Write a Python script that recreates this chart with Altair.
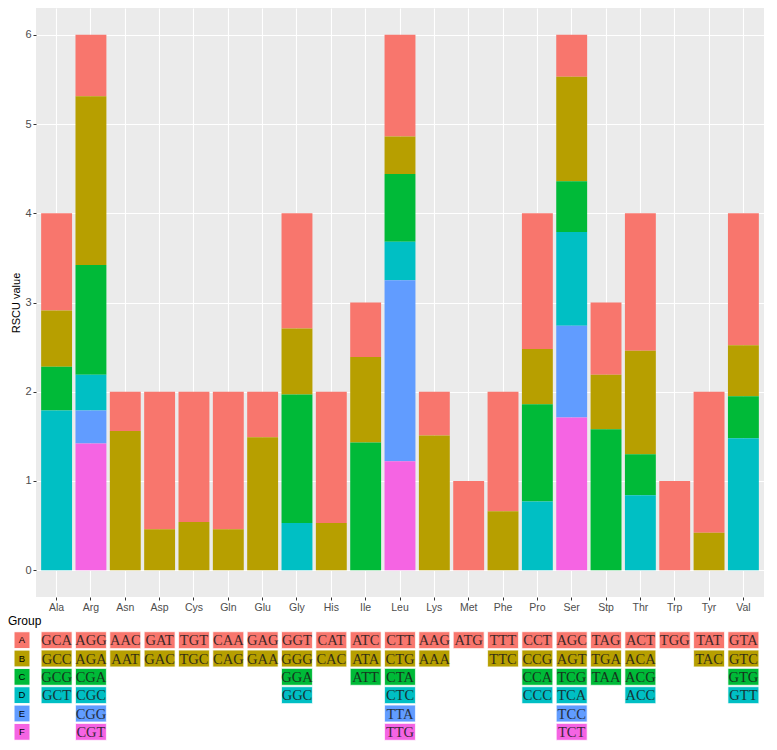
import altair as alt
import pandas as pd

# ---------------- data ----------------
amino_acids = ["Ala", "Arg", "Asn", "Asp", "Cys", "Gln", "Glu", "Gly", "His", "Ile", "Leu",
               "Lys", "Met", "Phe", "Pro", "Ser", "Stp", "Thr", "Trp", "Tyr", "Val"]

codons = ["GCA", "GCC", "GCG", "GCT",
          "AGG", "AGA", "CGA", "CGC", "CGG", "CGT",
          "AAC", "AAT",
          "GAT", "GAC",
          "TGT", "TGC",
          "CAA", "CAG",
          "GAG", "GAA",
          "GGT", "GGG", "GGA", "GGC",
          "CAT", "CAC",
          "ATC", "ATA", "ATT",
          "CTT", "CTG", "CTA", "CTC", "TTA", "TTG",
          "AAG", "AAA",
          "ATG",
          "TTT", "TTC",
          "CCT", "CCG", "CCA", "CCC",
          "AGC", "AGT", "TCG", "TCA", "TCC", "TCT",
          "TAG", "TGA", "TAA",
          "ACT", "ACA", "ACG", "ACC",
          "TGG",
          "TAT", "TAC",
          "GTA", "GTC", "GTG", "GTT"]

codon_aa = (["Ala"] * 4 + ["Arg"] * 6 + ["Asn"] * 2 + ["Asp"] * 2 + ["Cys"] * 2 + ["Gln"] * 2
            + ["Glu"] * 2 + ["Gly"] * 4 + ["His"] * 2 + ["Ile"] * 3 + ["Leu"] * 6 + ["Lys"] * 2
            + ["Met"] * 1 + ["Phe"] * 2 + ["Pro"] * 4 + ["Ser"] * 6 + ["Stp"] * 3 + ["Thr"] * 4
            + ["Trp"] * 1 + ["Tyr"] * 2 + ["Val"] * 4)

codon_group = (list("ABCD") + list("ABCDEF") + list("AB") * 5 + list("ABCD") + list("AB")
               + list("ABC") + list("ABCDEF") + list("AB") + list("A") + list("AB")
               + list("ABCD") + list("ABCDEF") + list("ABC") + list("ABCD") + list("A")
               + list("AB") + list("ABCD"))

rscu = [1.09, 0.63, 0.49, 1.79,
        0.69, 1.89, 1.23, 0.40, 0.37, 1.42,
        0.44, 1.56,
        1.54, 0.46,
        1.46, 0.54,
        1.54, 0.46,
        0.51, 1.49,
        1.29, 0.74, 1.44, 0.53,
        1.47, 0.53,
        0.61, 0.96, 1.43,
        1.14, 0.42, 0.76, 0.43, 2.03, 1.22,
        0.49, 1.51,
        1.00,
        1.34, 0.66,
        1.52, 0.62, 1.09, 0.77,
        0.47, 1.17, 0.57, 1.05, 1.03, 1.71,
        0.81, 0.61, 1.58,
        1.54, 1.16, 0.46, 0.84,
        1.00,
        1.58, 0.42,
        1.48, 0.57, 0.47, 1.48]

group_levels = ["A", "B", "C", "D", "E", "F"]
group_colors = ["#F8766D", "#B79F00", "#00BA38", "#00BFC4", "#619CFF", "#F564E3"]
y_ticks = [0, 0.5, 1, 1.5, 2, 2.5, 3, 3.5, 4, 4.5, 5, 5.5, 6]

df = pd.DataFrame({"AA": codon_aa, "Codon": codons, "Group": codon_group, "RSCU": rscu})
df["ord"] = df["Group"].map({g: i for i, g in enumerate(group_levels)})
keys = pd.DataFrame({"Group": group_levels})

# ---------------- layout ----------------
W = 728
H = 589
TABLE_H = 110
SANS = "Liberation Sans"

x_scale = alt.Scale(domain=amino_acids, paddingInner=0.1, paddingOuter=0.15)
color_scale = alt.Scale(domain=group_levels, range=group_colors)

major = "datum.value % 1 === 0"

bars = alt.Chart(df).mark_bar().encode(
    x=alt.X("AA:N", scale=x_scale, sort=amino_acids,
            axis=alt.Axis(title=None, labelAngle=0, bandPosition=0.5, grid=True,
                          gridColor="white", gridWidth=1.1, domain=False,
                          tickColor="#333333", tickSize=3, tickWidth=1,
                          labelColor="#4D4D4D", labelFontSize=10.5, labelFont=SANS,
                          labelPadding=2)),
    y=alt.Y("RSCU:Q", stack="zero",
            scale=alt.Scale(domain=[-0.3, 6.3], nice=False, zero=False),
            axis=alt.Axis(title="RSCU value", values=y_ticks, format="d",
                          labelExpr="datum.value % 1 === 0 ? datum.label : ''",
                          grid=True, gridColor="white",
                          gridWidth={"condition": {"test": major, "value": 1.1}, "value": 0.55},
                          tickOpacity={"condition": {"test": major, "value": 1}, "value": 0},
                          domain=False, tickColor="#333333", tickSize=3, tickWidth=1,
                          labelColor="#4D4D4D", labelFontSize=11, labelFont=SANS,
                          labelPadding=2, titleFont=SANS, titleFontSize=11,
                          titleFontWeight="normal", titleColor="black", titlePadding=3)),
    color=alt.Color("Group:N", scale=color_scale, legend=None),
    order=alt.Order("ord:Q", sort="descending"),
).properties(width=W, height=H,
             view=alt.ViewBackground(fill="#EBEBEB", stroke="transparent", strokeWidth=0))

tbl_y = alt.Y("Group:N", scale=alt.Scale(domain=group_levels, paddingInner=0.08, paddingOuter=0.04),
              axis=None)

cells = alt.Chart(df).mark_rect(stroke="white", strokeWidth=1, strokeOpacity=0.7).encode(
    x=alt.X("AA:N", scale=x_scale, sort=amino_acids, axis=None),
    y=tbl_y,
    color=alt.Color("Group:N", scale=color_scale, legend=None),
)
cell_text = alt.Chart(df).mark_text(font="Liberation Serif", fontSize=14.5, color="#1a1a1a",
                                    opacity=0.85, baseline="middle", dy=1).encode(
    x=alt.X("AA:N", scale=x_scale, sort=amino_acids, axis=None),
    y=tbl_y,
    text="Codon:N",
)
key_box = alt.Chart(keys).mark_rect(stroke="white", strokeWidth=1).encode(
    x=alt.value(-22), x2=alt.value(-6),
    y=tbl_y,
    color=alt.Color("Group:N", scale=color_scale, legend=None),
)
key_text = alt.Chart(keys).mark_text(font=SANS, fontSize=9.5, color="black",
                                     baseline="middle").encode(
    x=alt.value(-14), y=tbl_y, text="Group:N",
)

table = alt.layer(cells, cell_text, key_box, key_text).properties(
    width=W, height=TABLE_H,
    view=alt.ViewBackground(fill="transparent", stroke="transparent", strokeWidth=0),
    title=alt.TitleParams("Group", anchor="start", frame="group", dx=-28, offset=3,
                          font=SANS, fontSize=12, fontWeight="normal", color="black"),
)

chart = alt.vconcat(bars, table, spacing=2).configure_view(
    stroke="transparent", strokeWidth=0).configure(background="white").properties(padding=0)

chart.save("out.html", embed_options={"renderer": "svg", "actions": False})
